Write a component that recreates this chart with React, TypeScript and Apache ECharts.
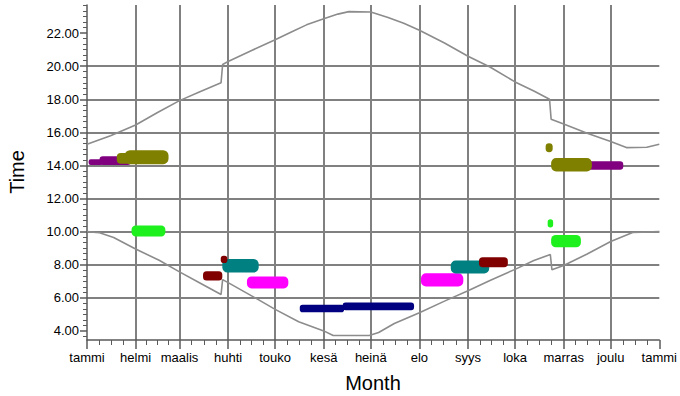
import React, { useEffect, useRef } from 'react';
import * as echarts from 'echarts';

const monthLabels = ['tammi', 'helmi', 'maalis', 'huhti', 'touko', 'kesä', 'heinä', 'elo', 'syys', 'loka', 'marras', 'joulu', 'tammi'];
const monthStartDays = [0, 31, 59, 90, 120, 151, 181, 212, 243, 273, 304, 334, 365];
const yTickValues = [4, 6, 8, 10, 12, 14, 16, 18, 20, 22];

// [day of year, hour]
const sunsetCurve: [number, number][] = [
  [0, 15.28], [15, 15.8], [31, 16.45], [45, 17.2], [59, 17.92], [72, 18.45], [85.5, 19.0], [86.5, 20.1],
  [90, 20.28], [105, 20.95], [120, 21.6], [131, 22.1], [140, 22.5], [151, 22.87], [160, 23.15], [167, 23.3],
  [181, 23.28], [192, 22.95], [202, 22.6], [212, 22.17], [228, 21.4], [243, 20.6], [257, 19.95], [273, 19.05],
  [285, 18.5], [295, 18.0], [296, 16.8], [304, 16.5], [319, 15.95], [334, 15.45], [344, 15.08], [357, 15.1], [365, 15.28],
];
const sunriseCurve: [number, number][] = [
  [0, 10.0], [8, 9.93], [17, 9.65], [31, 8.95], [46, 8.27], [59, 7.57], [72, 6.9], [85.5, 6.2], [86.5, 7.1],
  [90, 6.92], [105, 6.12], [120, 5.3], [135, 4.55], [151, 4.0], [157, 3.72], [180, 3.72], [186, 3.9],
  [196, 4.45], [212, 5.1], [228, 5.8], [243, 6.43], [257, 7.05], [273, 7.72], [285, 8.25], [295.5, 8.62],
  [296.5, 7.7], [304, 7.95], [319, 8.65], [334, 9.4], [348, 9.95], [365, 10.0],
];

// observation clusters: [startDay, endDay, lowHour, highHour]
const limeBlobs = [[28.4, 50, 9.71, 10.37], [296, 315, 9.05, 9.8], [293.8, 297.3, 10.25, 10.75]];
const navyBlobs = [[135.7, 164, 5.13, 5.58], [163, 208.6, 5.25, 5.72]];
const magentaBlobs = [[102, 128.4, 6.57, 7.29], [213, 240, 6.68, 7.48]];
const tealBlobs = [[86.3, 109.5, 7.53, 8.35], [232, 256.5, 7.47, 8.25]];
const maroonBlobs = [[74, 86.3, 7.04, 7.6], [85.3, 89.5, 8.1, 8.55], [250, 268.4, 7.85, 8.45]];
const purpleBlobs = [[1, 10, 14.03, 14.38], [8, 28, 14.03, 14.55], [315.6, 342, 13.74, 14.25]];
const oliveBlobs = [[19, 28, 14.1, 14.75], [24, 52, 14.08, 14.92], [296, 322, 13.64, 14.45], [292.5, 297, 14.8, 15.35]];

const blobGroups = [
  { name: 'lime', color: '#1ef01e', data: limeBlobs },
  { name: 'navy', color: '#000080', data: navyBlobs },
  { name: 'magenta', color: '#ff00ff', data: magentaBlobs },
  { name: 'teal', color: '#008080', data: tealBlobs },
  { name: 'maroon', color: '#800000', data: maroonBlobs },
  { name: 'purple', color: '#800080', data: purpleBlobs },
  { name: 'olive', color: '#808000', data: oliveBlobs },
];

const xMinorTicks = monthStartDays.slice(0, -1).flatMap((d, i) => {
  const len = monthStartDays[i + 1] - d;
  return [1, 2, 3].map((k) => d + (k * len) / 4);
});
const yMinorTicks: number[] = [];
for (let i = 11; i <= 71; i++) {
  if (i % 6 !== 0) yMinorTicks.push(i / 3);
}

const FONT = "'Liberation Sans', Arial, sans-serif";
const GRID_COLOR = '#808080';
const AXIS_COLOR = '#5a5a5a';

export default function App() {
  const ref = useRef<HTMLDivElement>(null);
  useEffect(() => {
    if (!ref.current) return;
    const chart = echarts.init(ref.current, undefined, { renderer: 'svg' });
    const option: any = {
      animation: false,
      grid: { left: 87, right: 17, top: 5, bottom: 56 },
      xAxis: [
        {
          type: 'value', min: 0, max: 365, position: 'bottom',
          axisLine: { show: true, lineStyle: { color: AXIS_COLOR, width: 1.5 } },
          axisTick: { show: true, customValues: monthStartDays, length: 9, lineStyle: { color: AXIS_COLOR, width: 1.5 } },
          axisLabel: {
            customValues: monthStartDays,
            formatter: (v: number) => {
              const i = monthStartDays.indexOf(Math.round(v));
              return i >= 0 ? monthLabels[i] : '';
            },
            color: '#000', fontSize: 13, fontFamily: FONT, margin: 11, hideOverlap: false,
            showMinLabel: true, showMaxLabel: true,
          },
          splitLine: { show: true, showMinLine: false, showMaxLine: false, lineStyle: { color: GRID_COLOR, width: 2 } },
        },
        {
          type: 'value', min: 0, max: 365, position: 'bottom',
          axisLine: { show: false },
          axisTick: { show: true, customValues: xMinorTicks, length: 5, lineStyle: { color: AXIS_COLOR, width: 1 } },
          axisLabel: { show: false },
          splitLine: { show: false },
        },
      ],
      yAxis: [
        {
          type: 'value', min: 3.45, max: 23.7, position: 'left',
          axisLine: { show: true, lineStyle: { color: AXIS_COLOR, width: 1.5 } },
          axisTick: { show: true, customValues: yTickValues, length: 7, lineStyle: { color: AXIS_COLOR, width: 1.5 } },
          axisLabel: {
            customValues: yTickValues,
            formatter: (v: number) => v.toFixed(2),
            color: '#000', fontSize: 13, fontFamily: FONT, margin: 8,
          },
          splitLine: { show: true, showMinLine: false, showMaxLine: false, lineStyle: { color: GRID_COLOR, width: 2 } },
        },
        {
          type: 'value', min: 3.45, max: 23.7, position: 'left',
          axisLine: { show: false },
          axisTick: { show: true, customValues: yMinorTicks, length: 4, lineStyle: { color: AXIS_COLOR, width: 1 } },
          axisLabel: { show: false },
          splitLine: { show: false },
        },
      ],
      graphic: [
        { type: 'text', x: 17, y: 172, rotation: Math.PI / 2, style: { text: 'Time', fontSize: 20, fontFamily: FONT, fill: '#000', align: 'center', verticalAlign: 'middle' } },
        { type: 'text', x: 373, y: 383, style: { text: 'Month', fontSize: 20, fontFamily: FONT, fill: '#000', align: 'center', verticalAlign: 'middle' } },
      ],
      series: [
        {
          type: 'line', name: 'sunset', data: sunsetCurve, xAxisIndex: 0, yAxisIndex: 0,
          showSymbol: false, symbol: 'none', lineStyle: { color: '#8c8c8c', width: 1.6 }, z: 3,
        },
        {
          type: 'line', name: 'sunrise', data: sunriseCurve, xAxisIndex: 0, yAxisIndex: 0,
          showSymbol: false, symbol: 'none', lineStyle: { color: '#8c8c8c', width: 1.6 }, z: 3,
        },
        ...blobGroups.map((g) => ({
          type: 'custom', name: g.name, xAxisIndex: 0, yAxisIndex: 0, z: 4,
          data: g.data,
          encode: { x: [0, 1], y: [2, 3] },
          renderItem: (_params: any, api: any) => {
            const p0 = api.coord([api.value(0), api.value(3)]);
            const p1 = api.coord([api.value(1), api.value(2)]);
            const w = p1[0] - p0[0];
            const h = p1[1] - p0[1];
            return {
              type: 'rect',
              shape: { x: p0[0], y: p0[1], width: w, height: h, r: Math.min(h * 0.38, w / 2) },
              style: { fill: g.color },
            };
          },
        })),
      ],
    };
    chart.setOption(option);
    return () => chart.dispose();
  }, []);
  return <div ref={ref} style={{ position: 'fixed', left: 0, top: 0, width: 680, height: 396, background: '#fff' }} />;
}
